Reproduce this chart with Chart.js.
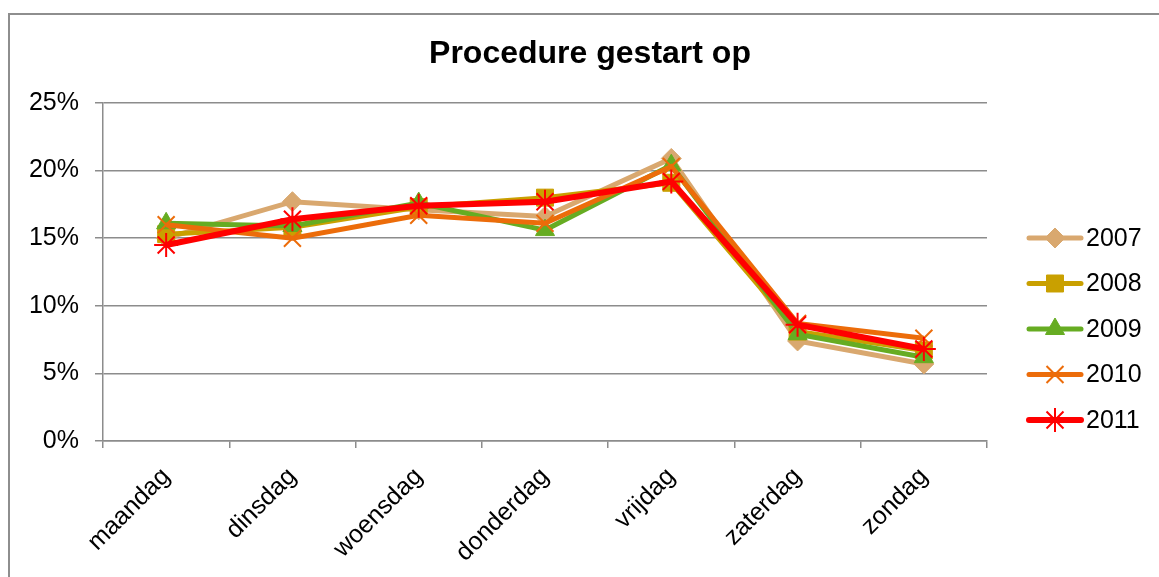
<!DOCTYPE html>
<html>
<head>
<meta charset="utf-8">
<title>Procedure gestart op</title>
<script src="https://cdn.jsdelivr.net/npm/chart.js"></script>
<style>
  html, body { margin: 0; padding: 0; background: #ffffff; overflow: hidden; }
  #frame { position: absolute; left: 8px; top: 13px; width: 1200px; height: 700px; border: 2px solid #8e8e8e; box-sizing: border-box; }
  #wrap { position: absolute; left: 0; top: 0; width: 1159px; height: 577px; }
</style>
</head>
<body>
<div id="frame"></div>
<div id="wrap"><canvas id="c" width="1159" height="577"></canvas></div>
<script>
// ---- data ----
const chartTitle = "Procedure gestart op";
const days = ["maandag", "dinsdag", "woensdag", "donderdag", "vrijdag", "zaterdag", "zondag"];
const seriesNames = ["2007", "2008", "2009", "2010", "2011"];
const v2007 = [15.0, 17.7, 17.1, 16.6, 20.9, 7.4, 5.7];
const v2008 = [15.3, 15.8, 17.3, 18.0, 19.1, 8.1, 6.7];
const v2009 = [16.1, 15.9, 17.6, 15.6, 20.4, 7.9, 6.2];
const v2010 = [16.0, 15.0, 16.7, 16.1, 20.3, 8.7, 7.6];
const v2011 = [14.5, 16.4, 17.4, 17.7, 19.2, 8.6, 6.8];
const yTicks = [0, 5, 10, 15, 20, 25];

// ---- styles ----
const FONT = "'Liberation Sans', Arial, Helvetica, sans-serif";
const GRID = '#8c8c8c';
const styles = [
  { color: '#D9A86F', pointStyle: 'rectRot', radius: 10, lw: 5,  pbw: 1 },
  { color: '#C9A000', pointStyle: 'rect',    radius: 12, lw: 5,  pbw: 1 },
  { color: '#66AC22', pointStyle: 'triangle',radius: 11, lw: 5,  pbw: 1 },
  { color: '#EC6C0A', pointStyle: 'crossRot',radius: 12, lw: 5,  pbw: 2 },
  { color: '#FF0000', pointStyle: 'star',    radius: 12, lw: 6,  pbw: 2 }
];
const allValues = [v2007, v2008, v2009, v2010, v2011];

const datasets = seriesNames.map((name, i) => ({
  label: name,
  data: allValues[i],
  borderColor: styles[i].color,
  backgroundColor: styles[i].color,
  borderWidth: styles[i].lw,
  pointStyle: styles[i].pointStyle,
  pointRadius: styles[i].radius,
  pointHoverRadius: styles[i].radius,
  pointBackgroundColor: styles[i].color,
  pointBorderColor: styles[i].color,
  pointBorderWidth: styles[i].pbw,
  tension: 0,
  fill: false,
  order: seriesNames.length - i
}));

function drawMarker(ctx, st, x, y) {
  if (Chart.helpers && Chart.helpers.drawPoint) {
    Chart.helpers.drawPoint(ctx, { pointStyle: st.pointStyle, radius: st.radius, borderWidth: st.pbw, rotation: 0 }, x, y);
  }
}

const decor = {
  id: 'decor',
  afterDraw(chart) {
    const ctx = chart.ctx;
    ctx.save();
    // title
    ctx.fillStyle = '#000';
    ctx.font = 'bold 32px ' + FONT;
    ctx.textAlign = 'center';
    ctx.textBaseline = 'alphabetic';
    ctx.fillText(chartTitle, 590, 63);
    // legend
    chart.data.datasets.forEach((ds, i) => {
      const st = styles[i];
      const y = 238 + i * 45.5;
      ctx.strokeStyle = st.color;
      ctx.lineWidth = st.lw;
      ctx.lineCap = 'round';
      ctx.beginPath();
      ctx.moveTo(1029, y);
      ctx.lineTo(1081, y);
      ctx.stroke();
      ctx.lineCap = 'butt';
      ctx.fillStyle = st.color;
      ctx.strokeStyle = st.color;
      ctx.lineWidth = st.pbw;
      drawMarker(ctx, st, 1055, y);
      ctx.fillStyle = '#000';
      ctx.font = '25px ' + FONT;
      ctx.textAlign = 'left';
      ctx.textBaseline = 'middle';
      ctx.fillText(ds.label, 1086, y + 1);
    });
    ctx.restore();
  }
};

Chart.defaults.font.family = FONT;
Chart.defaults.color = '#000';

new Chart(document.getElementById('c'), {
  type: 'line',
  data: { labels: days, datasets: datasets },
  options: {
    responsive: false,
    animation: false,
    layout: { padding: { left: 0, right: 172, top: 103, bottom: 0 } },
    plugins: {
      legend: { display: false },
      title: { display: false },
      tooltip: { enabled: false }
    },
    scales: {
      x: {
        offset: true,
        grid: { offset: true, drawOnChartArea: false, drawTicks: true, tickLength: 7, color: GRID, lineWidth: 1.5 },
        border: { display: true, color: GRID, width: 1.5 },
        ticks: { font: { size: 25 }, color: '#000', maxRotation: 45, minRotation: 45, padding: 14, autoSkip: false },
        afterFit: s => { s.height = 136; }
      },
      y: {
        min: 0, max: 25,
        afterBuildTicks: s => { s.ticks = yTicks.map(v => ({ value: v })); },
        grid: { color: GRID, lineWidth: 1.5, drawTicks: true, tickLength: 8 },
        border: { display: true, color: GRID, width: 1.5 },
        ticks: { font: { size: 25 }, color: '#000', padding: 16, callback: v => v + '%' },
        afterFit: s => { s.width = 103; }
      }
    }
  },
  plugins: [decor]
});
</script>
</body>
</html>
